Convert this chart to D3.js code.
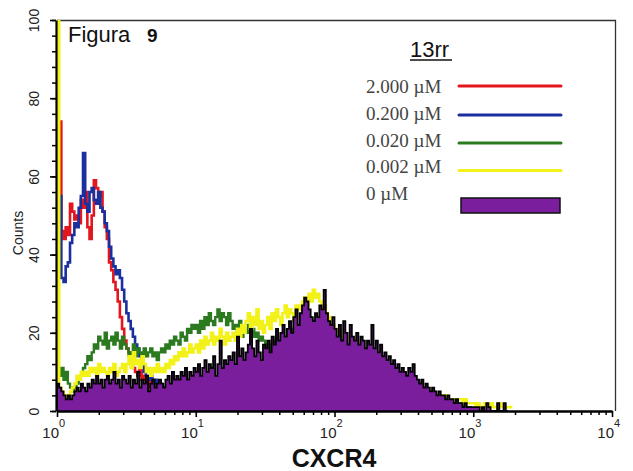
<!DOCTYPE html>
<html>
<head>
<meta charset="utf-8">
<script src="https://cdn.jsdelivr.net/npm/d3@7"></script>
<style>
  body { margin: 0; background: #fff; }
  svg { display: block; }
</style>
</head>
<body>
<div id="chart"></div>
<script>
// histogram channels, 64 per decade starting at 10^0
var binsPerDecade = 64;

// 2.000 uM
var red = [
  45,74,46,44,47,45,53,51,49,50,48,54,52,56,47,44,
  50,59,57,55,56,51,47,44,38,36,33,31,28,24,21,18,
  16,15,13,11,10,9,11,8,9,7,8,6,5,6,4,5
];
// 0.200 uM
var blue = [
  34,55,34,33,37,38,43,45,48,47,52,55,66,53,51,56,
  57,54,53,56,52,51,48,46,42,39,37,35,36,34,31,28,
  25,23,21,19,17,16,14,12,10,9,8,9,7,8,6,7,
  6,5,6,5,4
];
// 0.020 uM
var green = [
  10,9,11,8,10,7,6,5,6,7,8,9,11,12,14,13,
  15,17,16,19,18,17,20,16,18,19,17,20,18,16,19,17,
  16,14,15,17,14,16,15,13,16,14,15,16,14,15,13,15,
  16,15,17,16,18,17,19,18,17,20,19,18,21,20,22,21,
  22,20,23,21,24,22,25,23,22,24,26,23,25,24,22,25,
  23,21,22,20,23,19,21,20,22,20,21,19,20,18,19,18,
  15,17,14,18,16,19,17,18,19,18,19,20,19,21,22,20,
  22,23,24,23,24,22,23,22,21,22,21,20,21,19,20,19,
  18,19,18,17,18,17,16,17,16,15,16,15,14,15,14,14,
  13,14,13,12,13,12,11,12,11,10,11,10,9,10,9,9,
  8,9,8,7,8,7,6,7,6,5,6,5,4,5,4,4,
  3,4,3,3,2,3,2,2,2,1,2,1,1,1,1,0
];
// 0.002 uM
var yellow = [
  110,6,5,3,4,3,5,6,7,9,8,10,9,10,9,11,
  10,11,9,12,10,11,10,9,11,10,12,9,10,11,12,10,
  12,14,11,15,12,13,11,14,12,10,11,9,11,10,12,10,
  11,10,12,11,13,12,14,13,15,14,16,14,15,17,15,16,
  17,15,18,16,19,17,18,20,17,19,18,21,19,17,20,18,
  19,20,18,21,19,22,20,23,25,21,24,22,26,21,23,20,
  22,24,21,25,23,26,24,22,25,27,24,26,25,23,27,26,
  27,28,29,27,30,28,31,29,30,28,26,27,25,24,23,22,
  21,20,21,19,19,18,18,19,17,17,18,16,17,16,15,16,
  16,16,15,15,14,14,13,13,12,12,11,11,10,10,10,9,
  9,9,8,8,8,7,7,6,6,6,5,5,5,4,4,4,
  4,4,3,4,3,3,3,3,3,3,3,2,3,2,2,2,
  2,1,2,1,1,2,1,1,2,1,1,1,2,1,1,1,
  1,1
];
// 0 uM (filled)
var control = [
  7,6,5,4,3,4,3,4,5,6,5,7,6,5,7,6,
  8,7,9,7,8,6,8,9,7,8,10,7,8,6,9,8,
  7,9,6,8,7,10,6,8,7,9,5,7,8,6,7,8,
  7,6,8,9,7,10,8,9,8,10,9,11,8,10,9,11,
  10,12,9,11,13,10,12,11,14,9,12,18,11,13,12,14,
  13,15,12,19,14,16,13,15,17,21,16,14,18,15,13,17,
  16,18,15,19,17,21,18,20,22,19,21,23,20,24,26,22,
  25,27,29,28,26,24,23,25,24,27,26,31,25,23,22,24,
  21,19,22,18,23,20,17,22,19,18,20,17,19,18,16,18,
  17,22,16,18,15,17,14,15,13,14,12,13,11,12,10,11,
  10,9,11,10,12,9,8,7,8,6,7,6,5,6,5,4,
  5,4,4,3,4,3,3,2,3,2,2,1,2,1,1,1,
  1,1,1,0,1,0,2,1,0,0,0,2,0,0,2,0
];

var seriesNames = ["2.000 µM", "0.200 µM", "0.020 µM", "0.002 µM", "0 µM"];
var seriesColors = ["#e3161e", "#1b2f9e", "#2c7a1f", "#f2f21a", "#7b1e9e"];
var xTicks = [1, 10, 100, 1000, 10000];
var yTicks = [0, 20, 40, 60, 80, 100];

var W = 633, H = 471;
var sans = "'Liberation Sans', Arial, sans-serif";
var serif = "'Liberation Serif', 'Times New Roman', serif";

var svg = d3.select("#chart").append("svg")
    .attr("width", W)
    .attr("height", H);

var x = d3.scaleLog().domain([1, 1e4]).range([57, 612]);
var y = d3.scaleLinear().domain([0, 100]).range([411, 20]);

function toPoints(vals) {
  var pts = [[1, 0]];
  vals.forEach(function(v, i) { pts.push([Math.pow(10, i / binsPerDecade), v]); });
  pts.push([Math.pow(10, vals.length / binsPerDecade), vals[vals.length - 1]]);
  return pts;
}

var line = d3.line()
    .x(d => x(d[0]))
    .y(d => y(d[1]))
    .curve(d3.curveStepAfter);

var area = d3.area()
    .x(d => x(d[0]))
    .y0(y(0))
    .y1(d => y(d[1]))
    .curve(d3.curveStepAfter);

svg.append("clipPath").attr("id", "plotclip")
  .append("rect")
    .attr("x", 56).attr("y", 20)
    .attr("width", 560).attr("height", 392);

// frame
svg.append("path")
    .attr("d", "M57,20.5H615.5V411")
    .attr("fill", "none")
    .attr("stroke", "#333")
    .attr("stroke-width", 1.3);

var plot = svg.append("g").attr("clip-path", "url(#plotclip)");

var widths = [2.6, 2.6, 2.4, 2.6];
[red, blue, green, yellow].forEach(function(vals, k) {
  plot.append("path")
      .attr("d", line(toPoints(vals)))
      .attr("fill", "none")
      .attr("stroke", seriesColors[k])
      .attr("stroke-width", widths[k]);
});

plot.append("path")
    .attr("d", area(toPoints(control)))
    .attr("fill", seriesColors[4]);

plot.append("path")
    .attr("d", line(toPoints(control)))
    .attr("fill", "none")
    .attr("stroke", "#000")
    .attr("stroke-width", 1.8);

// y axis
var yMinor = d3.range(0, 101, 4);
svg.append("g")
    .attr("transform", "translate(56,0)")
    .call(d3.axisLeft(y).tickValues(yMinor).tickSize(4).tickFormat(""))
    .call(g => g.select(".domain").remove())
    .selectAll("line").attr("stroke", "#000").attr("stroke-width", 1.5);

var yAxis = svg.append("g")
    .attr("transform", "translate(56,0)")
    .call(d3.axisLeft(y).tickValues(yTicks).tickSize(6).tickSizeOuter(0));
yAxis.select(".domain").attr("stroke", "#000").attr("stroke-width", 2.2);
yAxis.selectAll("line").attr("stroke", "#000").attr("stroke-width", 1.6);
yAxis.selectAll("text")
    .attr("transform", "rotate(-90)")
    .attr("x", 0)
    .attr("y", -17)
    .attr("dy", 0)
    .attr("text-anchor", "middle")
    .attr("fill", "#222")
    .style("font-family", sans)
    .style("font-size", "14px");

// x axis
var xMinor = [];
[1, 10, 100, 1000].forEach(function(d) {
  for (var m = 2; m < 10; m++) xMinor.push(d * m);
});
svg.append("g")
    .attr("transform", "translate(0,411)")
    .call(d3.axisBottom(x).tickValues(xMinor).tickSize(4).tickFormat(""))
    .call(g => g.select(".domain").remove())
    .selectAll("line").attr("stroke", "#000").attr("stroke-width", 1.5);

var xAxis = svg.append("g")
    .attr("transform", "translate(0,411)")
    .call(d3.axisBottom(x).tickValues(xTicks).tickSize(6).tickSizeOuter(0).tickFormat(""));
xAxis.select(".domain").attr("stroke", "#000").attr("stroke-width", 2.4);
xAxis.selectAll("line").attr("stroke", "#000").attr("stroke-width", 1.6);

var xLab = svg.append("g").selectAll("g")
    .data(xTicks)
  .enter().append("g")
    .attr("transform", d => "translate(" + x(d) + ",0)");
xLab.append("text")
    .attr("x", 2).attr("y", 438)
    .attr("text-anchor", "end")
    .attr("fill", "#222")
    .style("font-family", sans)
    .style("font-size", "15px")
    .text("10");
xLab.append("text")
    .attr("x", 2).attr("y", 427)
    .attr("text-anchor", "start")
    .attr("fill", "#222")
    .style("font-family", sans)
    .style("font-size", "11px")
    .text(d => Math.round(Math.log10(d)));

// axis titles
svg.append("text")
    .attr("transform", "translate(23,233) rotate(-90)")
    .attr("text-anchor", "middle")
    .attr("fill", "#222")
    .style("font-family", sans)
    .style("font-size", "14px")
    .text("Counts");

svg.append("text")
    .attr("x", 334).attr("y", 467)
    .attr("text-anchor", "middle")
    .attr("fill", "#111")
    .style("font-family", sans)
    .style("font-size", "25px")
    .style("font-weight", "bold")
    .text("CXCR4");

// figure label
svg.append("text")
    .attr("x", 68).attr("y", 42)
    .attr("fill", "#111")
    .style("font-family", sans)
    .style("font-size", "22px")
    .text("Figura");
svg.append("text")
    .attr("x", 147).attr("y", 42)
    .attr("fill", "#111")
    .style("font-family", sans)
    .style("font-size", "19px")
    .style("font-weight", "bold")
    .text("9");

// legend
svg.append("text")
    .attr("x", 410).attr("y", 57)
    .attr("fill", "#111")
    .style("font-family", sans)
    .style("font-size", "22px")
    .text("13rr");
svg.append("line")
    .attr("x1", 410).attr("x2", 452)
    .attr("y1", 60).attr("y2", 60)
    .attr("stroke", "#111").attr("stroke-width", 1.5);

var legendRows = [86.5, 113.5, 140.5, 167, 193.5];
var legendLines = [86, 115, 143, 170.5];

svg.append("g").selectAll("text")
    .data(seriesNames)
  .enter().append("text")
    .attr("x", 366)
    .attr("y", (d, i) => legendRows[i] + 6)
    .attr("fill", "#444")
    .style("font-family", serif)
    .style("font-size", "19px")
    .text(d => d);

svg.append("g").selectAll("line")
    .data(legendLines)
  .enter().append("line")
    .attr("x1", 459).attr("x2", 561)
    .attr("y1", d => d).attr("y2", d => d)
    .attr("stroke", (d, i) => seriesColors[i])
    .attr("stroke-width", 3)
    .attr("stroke-linecap", "round");

svg.append("rect")
    .attr("x", 461).attr("y", 198)
    .attr("width", 99).attr("height", 15)
    .attr("fill", seriesColors[4])
    .attr("stroke", "#111")
    .attr("stroke-width", 1.5);
</script>
</body>
</html>
